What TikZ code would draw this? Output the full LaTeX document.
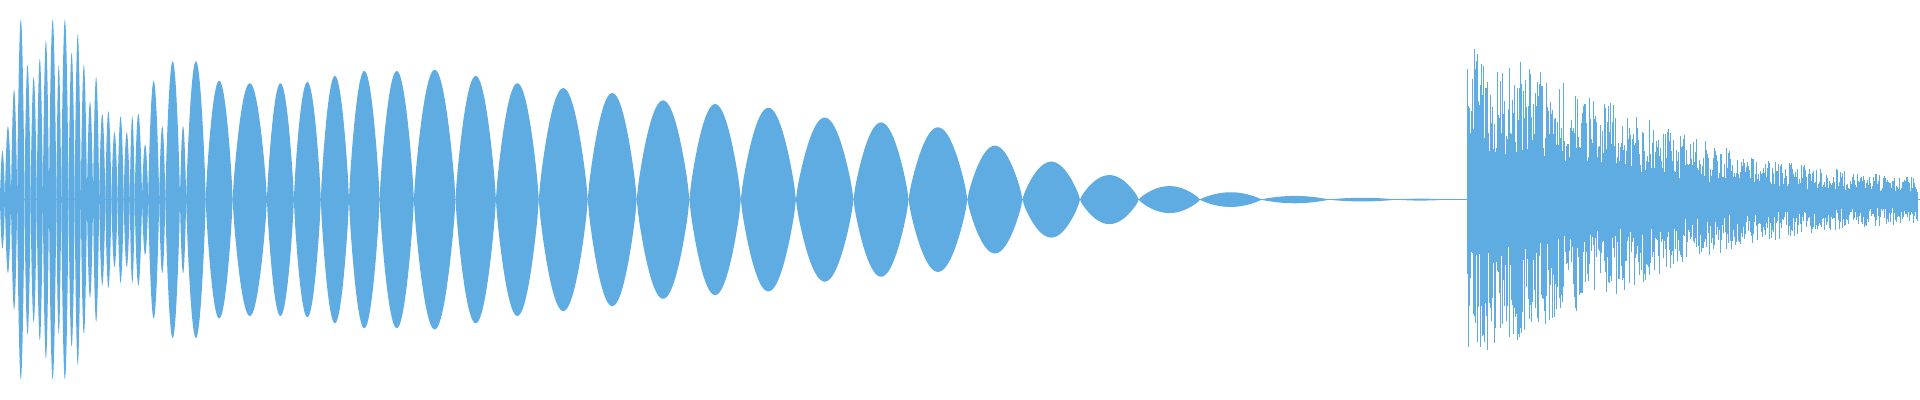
\documentclass[tikz,border=0pt]{standalone}
\definecolor{wave}{RGB}{94,172,226}
\begin{document}
\begin{tikzpicture}[x=1.2245pt,y=1.2245pt]
\useasboundingbox (0,-163) rectangle (1568,163);
\newcommand{\lobe}[3]{\fill[wave] plot[domain=0:180,samples=40] ({#1+(#2-#1)*\x/180},{#3*sin(\x)^0.8}) -- plot[domain=180:0,samples=40] ({#1+(#2-#1)*\x/180},{-#3*sin(\x)^0.8}) -- cycle;}
\draw[wave,line width=0.5pt] (0,0) -- (1568,0);
% left dense section
\foreach \a/\b/\h in {0/4/40,4/9/60,9/14/90,14/20/147,20/25/110,25/30/100,30/35/115,35/40/130,40/46/147,46/50/110,50/56/147,56/61/120,61/66/135,66/71/110,71/76/80,76/81/100,81/86/70,86/91/72,91/96/55,96/101/68,101/106/55,106/110/68,110/116/70,116/121/45,121/130/97,130/135/60,135/147/113,147/152/60}
  {\lobe{\a}{\b}{\h}}
\foreach \a/\b/\h in {152/168/113,168/190/97,190/218/95,218/240/95,240/262/96,262/285/101,285/310/105,310/338/105,338/372/106,372/405/101,405/440/95,440/480/91,480/520/87,520/563/81,563/605/78,605/650/75,650/697/67,697/742/63,742/790/59,790/835/44,835/882/31,882/930/20,930/980/11,980/1030/6,1030/1085/3,1085/1140/1.5,1140/1180/0.8}
  {\lobe{\a}{\b}{\h}}
% noise section
\pgfmathsetseed{7}
\foreach \i in {0,...,920}{
  \pgfmathsetmacro{\xx}{1198+\i*0.4}
  \pgfmathsetmacro{\env}{16+110*exp(-((\xx-1198)/170)^1.6)}
  \pgfmathsetmacro{\ra}{\env*(0.3+0.7*rnd^1.8)}
  \pgfmathsetmacro{\rb}{\env*(0.3+0.7*rnd^1.8)}
  \draw[wave,line width=0.35pt] (\xx,-\rb) -- (\xx,\ra);
}
\end{tikzpicture}
\end{document}
